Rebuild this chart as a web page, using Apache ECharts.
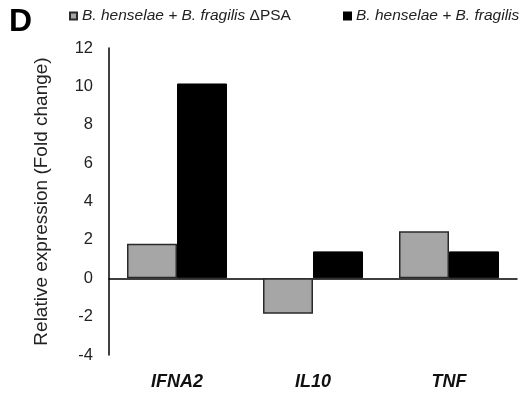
<!DOCTYPE html>
<html>
<head>
<meta charset="utf-8">
<script src="https://cdn.jsdelivr.net/npm/echarts@6/dist/echarts.min.js"></script>
<style>
  html, body { margin: 0; padding: 0; background: #fff; }
  #chart { width: 522px; height: 394px; }
</style>
</head>
<body>
<div id="chart"></div>
<script>
// genes on the x axis
const genes = ['IFNA2', 'IL10', 'TNF']
// fold change values
const deltaPsaValues = [1.8, -1.85, 2.45]
const wildTypeValues = [10.15, 1.4, 1.4]
const yTicks = { min: -4, max: 12, step: 2 }

const seriesNames = ['B. henselae + B. fragilis ΔPSA', 'B. henselae + B. fragilis']

const chart = echarts.init(document.getElementById('chart'))

const legendLabel = (name) => {
  if (name.endsWith('ΔPSA')) {
    return '{i|' + name.replace('ΔPSA', '') + '}{n|ΔPSA}'
  }
  return '{i|' + name + '}'
}

const font = 'Liberation Sans, Arial, sans-serif'
const legendText = {
  color: '#222',
  fontSize: 15.5,
  fontFamily: font,
  rich: {
    i: { fontStyle: 'italic', fontSize: 15.5, color: '#222', fontFamily: font },
    n: { fontSize: 15.5, color: '#222', fontFamily: font }
  }
}

const option = {
  animation: false,
  backgroundColor: '#fff',
  graphic: [
    {
      type: 'text',
      left: 9,
      top: 6,
      style: {
        text: 'D',
        font: 'bold 32px ' + font,
        fill: '#000'
      }
    }
  ],
  legend: [
    {
      data: [seriesNames[0]],
      left: 64,
      top: 3,
      icon: 'rect',
      itemWidth: 7,
      itemHeight: 7,
      formatter: legendLabel,
      textStyle: legendText
    },
    {
      data: [seriesNames[1]],
      left: 338,
      top: 3,
      icon: 'rect',
      itemWidth: 7,
      itemHeight: 7,
      formatter: legendLabel,
      textStyle: legendText
    }
  ],
  grid: {
    left: 109,
    right: 5,
    top: 48,
    bottom: 39
  },
  xAxis: [
    {
      type: 'category',
      data: genes,
      position: 'bottom',
      axisLine: { show: false, onZero: false },
      axisTick: { show: false },
      axisLabel: {
        margin: 18,
        color: '#111',
        fontSize: 18,
        fontWeight: 'bold',
        fontStyle: 'italic',
        fontFamily: font
      }
    },
    {
      type: 'category',
      data: genes,
      position: 'bottom',
      axisLine: { show: true, onZero: true, lineStyle: { color: '#000', width: 1.5 } },
      axisTick: { show: false },
      axisLabel: { show: false }
    }
  ],
  yAxis: {
    type: 'value',
    min: yTicks.min,
    max: yTicks.max,
    interval: yTicks.step,
    name: 'Relative expression (Fold change)',
    nameLocation: 'middle',
    nameGap: 58,
    nameTextStyle: {
      color: '#222',
      fontSize: 19,
      fontFamily: font
    },
    axisLine: { show: true, lineStyle: { color: '#000', width: 1.5 } },
    axisTick: { show: false },
    splitLine: { show: false },
    axisLabel: {
      margin: 16,
      color: '#222',
      fontSize: 16.5,
      fontFamily: font,
      padding: [4, 0, 0, 0]
    }
  },
  series: [
    {
      name: seriesNames[0],
      type: 'bar',
      xAxisIndex: 0,
      data: deltaPsaValues,
      barWidth: 50,
      barGap: '0%',
      itemStyle: {
        color: '#a6a6a6',
        borderColor: '#2a2a2a',
        borderWidth: 1.5
      }
    },
    {
      name: seriesNames[1],
      type: 'bar',
      xAxisIndex: 0,
      data: wildTypeValues,
      barWidth: 50,
      barGap: '0%',
      itemStyle: {
        color: '#000',
        borderColor: '#000',
        borderWidth: 1
      }
    }
  ]
}

chart.setOption(option)
window.addEventListener('resize', () => chart.resize())
</script>
</body>
</html>
